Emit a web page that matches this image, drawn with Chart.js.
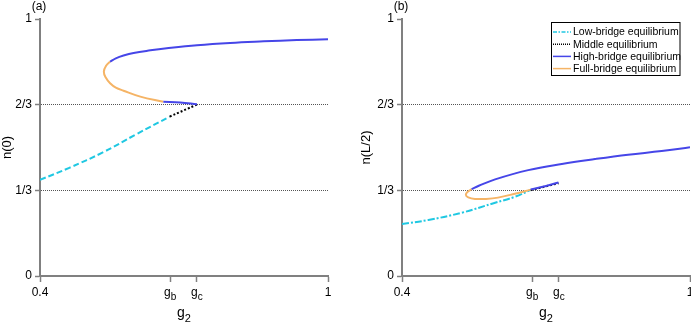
<!DOCTYPE html>
<html>
<head>
<meta charset="utf-8">
<script src="https://cdn.jsdelivr.net/npm/chart.js@4.4.0/dist/chart.umd.min.js"></script>
<style>
  html, body { margin: 0; padding: 0; background: #fff; overflow: hidden; }
  #wrap { position: relative; width: 691px; height: 323px; }
  canvas { position: absolute; top: 0; }
  #chartA { left: 0; }
  #chartB { left: 345px; }
</style>
</head>
<body>
<div id="wrap">
  <canvas id="chartA" width="345" height="323"></canvas>
  <canvas id="chartB" width="346" height="323"></canvas>
</div>
<script>
const FONT = '"Liberation Sans", Arial, Helvetica, sans-serif';
Chart.defaults.font.family = FONT;
Chart.defaults.color = '#000';

// ticks
const gB = 0.671, gC = 0.727;
const xTicks = [0.4, gB, gC, 1];
const xTickLabels = [['0.4'], ['g', 'b'], ['g', 'c'], ['1']];
const yTicks = [0, 1 / 3, 2 / 3, 1];
const yTickLabels = ['0', '1/3', '2/3', '1'];

// panel (a) : n(0)
const aLowG = [0.400, 0.461, 0.531, 0.600, 0.670];
const aLowN = [0.374, 0.421, 0.481, 0.551, 0.620];
const aMidG = [0.670, 0.727];
const aMidN = [0.620, 0.667];
const aFullG = [0.546, 0.538, 0.533, 0.537, 0.546, 0.558, 0.574, 0.609, 0.657];
const aFullN = [0.834, 0.819, 0.795, 0.772, 0.750, 0.733, 0.721, 0.698, 0.678];
const aHighLoG = [0.657, 0.692, 0.727];
const aHighLoN = [0.678, 0.675, 0.668];
const aHighUpG = [0.546, 0.558, 0.574, 0.595, 0.630, 0.664, 0.727, 0.796, 0.866, 0.935, 1.0];
const aHighUpN = [0.834, 0.847, 0.858, 0.868, 0.878, 0.886, 0.898, 0.907, 0.913, 0.918, 0.921];

// panel (b) : n(L/2)
const bLowG = [0.400, 0.455, 0.524, 0.594, 0.635, 0.668];
const bLowN = [0.202, 0.218, 0.246, 0.285, 0.308, 0.335];
const bMidG = [0.668, 0.726];
const bMidN = [0.334, 0.361];
const bFullG = [0.545, 0.537, 0.533, 0.538, 0.552, 0.575, 0.600, 0.635, 0.668];
const bFullN = [0.338, 0.328, 0.316, 0.306, 0.300, 0.300, 0.305, 0.320, 0.336];
const bHighLoG = [0.668, 0.700, 0.726];
const bHighLoN = [0.337, 0.350, 0.364];
const bHighUpG = [0.545, 0.560, 0.594, 0.663, 0.733, 0.802, 0.871, 0.941, 1.0];
const bHighUpN = [0.338, 0.351, 0.376, 0.412, 0.436, 0.455, 0.472, 0.486, 0.501];

const legendLabels = ['Low-bridge equilibrium', 'Middle equilibrium', 'High-bridge equilibrium', 'Full-bridge equilibrium'];

const cyan = '#20c8e2', black = '#000', blue = '#4646e8', orange = '#f5b466', gray = '#808080';
const legendColors = [cyan, black, blue, orange];
const legendDash = [[4, 1.5, 1.5, 1.5], [1, 1], [], []];

const pts = (xs, ys) => xs.map((x, i) => ({ x: x, y: ys[i] }));

function line(xs, ys, color, dash) {
  return {
    data: pts(xs, ys),
    showLine: true,
    borderColor: color,
    borderWidth: 2,
    borderDash: dash,
    pointRadius: 0,
    tension: 0.4,
    fill: false
  };
}

function drawSub(ctx, main, sub, cx, y, size, subSize, drop) {
  ctx.font = size + 'px ' + FONT;
  const w1 = ctx.measureText(main).width;
  ctx.font = subSize + 'px ' + FONT;
  const w2 = sub ? ctx.measureText(sub).width : 0;
  const x = cx - (w1 + w2) / 2;
  ctx.textAlign = 'left';
  ctx.font = size + 'px ' + FONT;
  ctx.fillText(main, x, y);
  if (sub) {
    ctx.font = subSize + 'px ' + FONT;
    ctx.fillText(sub, x + w1, y + drop);
  }
}

const extraLabels = {
  id: 'extraLabels',
  afterDraw(chart, args, opts) {
    const ctx = chart.ctx;
    const xs = chart.scales.x;
    const area = chart.chartArea;
    ctx.save();
    ctx.fillStyle = '#000';
    ctx.textBaseline = 'alphabetic';
    xTicks.forEach((v, i) => {
      drawSub(ctx, xTickLabels[i][0], xTickLabels[i][1], xs.getPixelForValue(v), area.bottom + 20, 12, 10, 4);
    });
    drawSub(ctx, 'g', '2', (area.left + area.right) / 2, area.bottom + 41, 14, 11, 4.5);
    ctx.font = '12px ' + FONT;
    ctx.textAlign = 'center';
    ctx.fillText(opts.letter, area.left - 1, 10);

    if (opts.showLegend) {
      const bx = 206.5, by = 22.5, bw = 128.5, bh = 53;
      ctx.fillStyle = '#fff';
      ctx.fillRect(bx, by, bw, bh);
      ctx.strokeStyle = '#000';
      ctx.lineWidth = 1;
      ctx.strokeRect(bx, by, bw, bh);
      ctx.font = '10.5px ' + FONT;
      ctx.textAlign = 'left';
      ctx.textBaseline = 'middle';
      legendLabels.forEach((lab, i) => {
        const y = 32 + i * 12.2;
        ctx.beginPath();
        ctx.setLineDash(legendDash[i]);
        ctx.strokeStyle = legendColors[i];
        ctx.lineWidth = 1.5;
        ctx.moveTo(208, y);
        ctx.lineTo(226, y);
        ctx.stroke();
        ctx.setLineDash([]);
        ctx.fillStyle = '#000';
        ctx.fillText(lab, 228, y + 0.5);
      });
    }
    ctx.restore();
  }
};

function makeOptions(letter, yTitle, yWidth, padRight, titlePad, showLegend) {
  return {
    responsive: false,
    animation: false,
    layout: { padding: { top: 19, right: padRight, left: 0, bottom: 0 } },
    plugins: {
      legend: { display: false },
      tooltip: { enabled: false },
      extraLabels: { letter: letter, showLegend: showLegend }
    },
    scales: {
      x: {
        type: 'linear', min: 0.4, max: 1,
        afterBuildTicks: s => { s.ticks = xTicks.map(v => ({ value: v })); },
        afterFit: s => { s.height = 47; },
        ticks: { display: false },
        grid: { drawOnChartArea: false, drawTicks: true, tickLength: 6, tickColor: gray, tickWidth: 1.5 },
        border: { color: gray, width: 2 }
      },
      y: {
        type: 'linear', min: 0, max: 1,
        afterBuildTicks: s => { s.ticks = yTicks.map(v => ({ value: v })); },
        afterFit: s => { s.width = yWidth; },
        ticks: { padding: 3, font: { size: 12 }, color: '#000', callback: (v, i) => yTickLabels[i] },
        grid: {
          color: c => (c.tick && c.tick.value > 0.01 && c.tick.value < 0.99) ? '#555' : 'rgba(0,0,0,0)',
          lineWidth: 1, tickColor: gray, tickLength: 5, tickWidth: 1.5
        },
        border: { color: gray, width: 2, dash: [1, 1] },
        title: { display: true, text: yTitle, font: { size: 13 }, color: '#000', padding: { top: titlePad, bottom: 0 } }
      }
    }
  };
}

new Chart(document.getElementById('chartA'), {
  type: 'scatter',
  data: {
    datasets: [
      line(aHighUpG, aHighUpN, blue, []),
      line(aHighLoG, aHighLoN, blue, []),
      line(aFullG, aFullN, orange, []),
      line(aMidG, aMidN, black, [2, 2]),
      line(aLowG, aLowN, cyan, [6, 3])
    ]
  },
  options: makeOptions('(a)', 'n(0)', 40, 17, 0, false),
  plugins: [extraLabels]
});

new Chart(document.getElementById('chartB'), {
  type: 'scatter',
  data: {
    datasets: [
      line(bHighUpG, bHighUpN, blue, []),
      line(bHighLoG, bHighLoN, blue, []),
      line(bFullG, bFullN, orange, []),
      line(bMidG, bMidN, black, [2, 2]),
      line(bLowG, bLowN, cyan, [7, 2, 2, 2])
    ]
  },
  options: makeOptions('(b)', 'n(L/2)', 57, 1, 14, true),
  plugins: [extraLabels]
});
</script>
</body>
</html>
